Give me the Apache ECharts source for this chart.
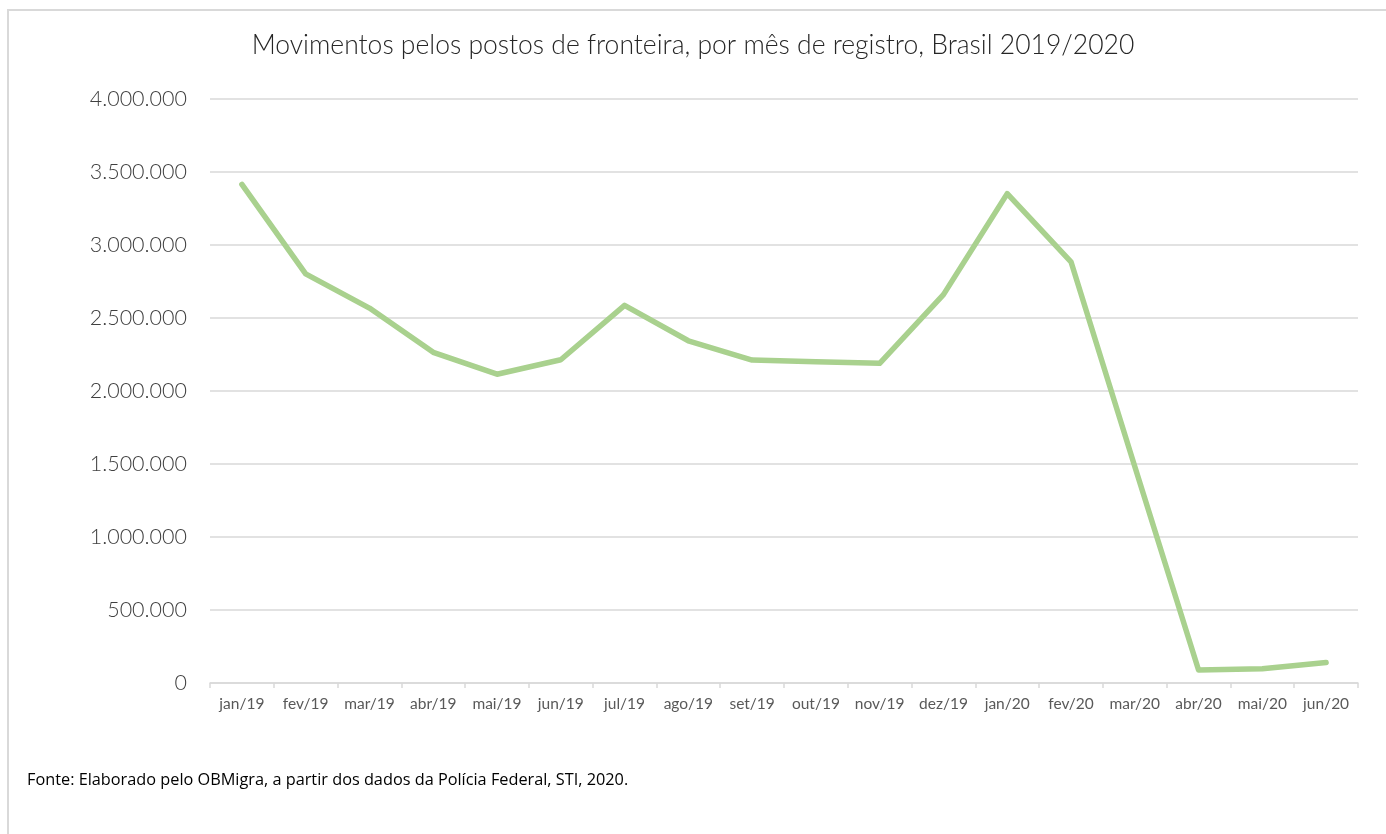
<!DOCTYPE html>
<html>
<head>
<meta charset="utf-8">
<script src="https://cdn.jsdelivr.net/npm/echarts@6/dist/echarts.min.js"></script>
<style>
html,body{margin:0;padding:0;background:#fff;}
#c{width:1386px;height:834px;}
</style>
</head>
<body>
<div id="c"></div>
<script>
const categories = ['jan/19','fev/19','mar/19','abr/19','mai/19','jun/19','jul/19','ago/19','set/19','out/19','nov/19','dez/19','jan/20','fev/20','mar/20','abr/20','mai/20','jun/20'];
const movimentos = [3415000,2802000,2568000,2265000,2115000,2214000,2587000,2344000,2212000,2200000,2190000,2660000,3352000,2885000,1483000,89000,97000,141000];
const yTicks = { min: 0, max: 4000000, interval: 500000 };
const titleText = 'Movimentos pelos postos de fronteira, por mês de registro, Brasil 2019/2020';
const sourceText = 'Fonte: Elaborado pelo OBMigra, a partir dos dados da Polícia Federal, STI, 2020.';

function fmt(v){ return String(v).replace(/\B(?=(\d{3})+(?!\d))/g,'.'); }

const chart = echarts.init(document.getElementById('c'), null, {renderer:'canvas'});
chart.setOption({
  animation:false,
  backgroundColor:'#ffffff',
  title:{
    text:titleText, left:'center', top:27,
    textStyle:{fontFamily:'Lato', fontWeight:300, fontSize:26.5, color:'#262626'}
  },
  grid:{left:210, right:28, top:99, bottom:151, containLabel:false},
  xAxis:{
    type:'category', data:categories, boundaryGap:true,
    axisLine:{show:true, lineStyle:{color:'#d9d9d9', width:1.5}},
    axisTick:{show:true, length:5, lineStyle:{color:'#d9d9d9', width:1.5}},
    axisLabel:{fontFamily:'Lato', fontSize:15.5, color:'#595959', margin:13, interval:0}
  },
  yAxis:{
    type:'value', min:yTicks.min, max:yTicks.max, interval:yTicks.interval,
    axisLine:{show:false}, axisTick:{show:false},
    splitLine:{lineStyle:{color:'#d9d9d9', width:1.5}},
    axisLabel:{fontFamily:'Lato', fontWeight:300, fontSize:21.5, color:'#404040', margin:23, formatter:fmt}
  },
  series:[{
    type:'line', data:movimentos, showSymbol:false, symbol:'none',
    lineStyle:{color:'#a9d18e', width:5.5, cap:'round', join:'round'},
    itemStyle:{color:'#a9d18e'}
  }],
  graphic:[
    {type:'rect', shape:{x:8, y:10, width:1390, height:840}, style:{fill:null, stroke:'#d9d9d9', lineWidth:2}, silent:true},
    {type:'text', left:27, top:772, style:{text:sourceText, fontFamily:'Open Sans', fontSize:16.3, fill:'#000000'}}
  ]
});
</script>
</body>
</html>
